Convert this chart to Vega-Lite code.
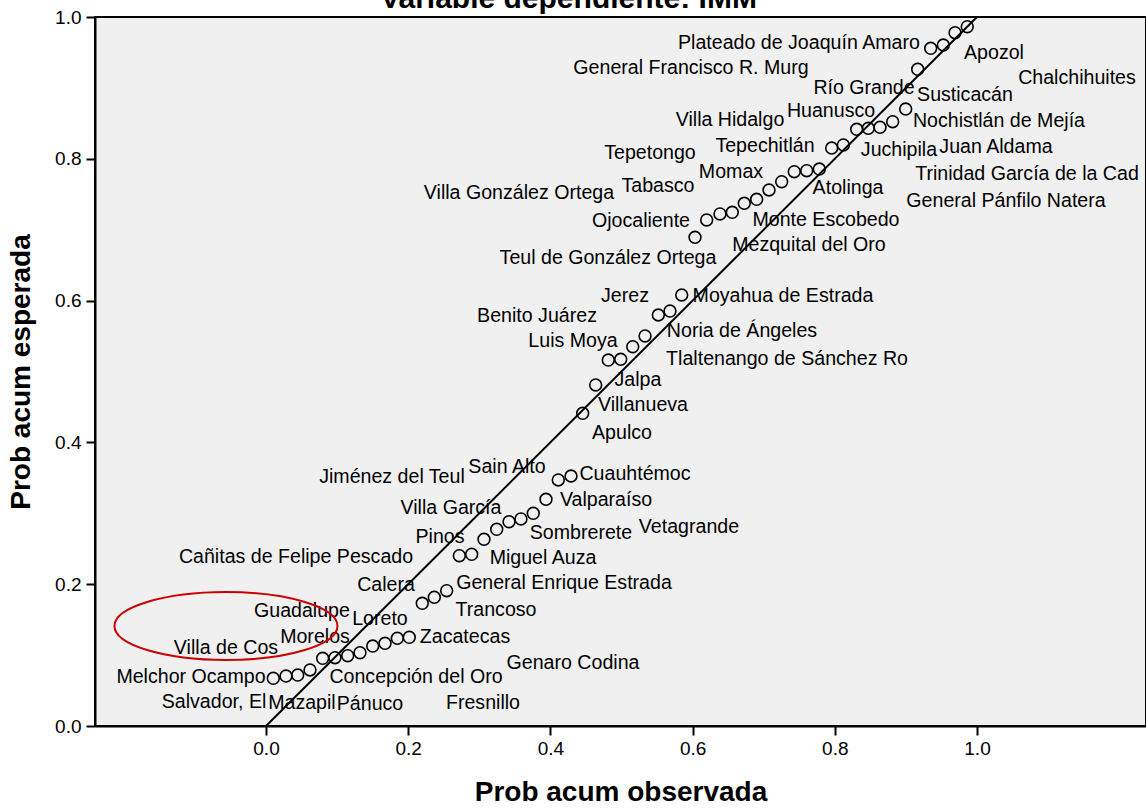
{
  "$schema": "https://vega.github.io/schema/vega-lite/v6.json",
  "width": 1051,
  "height": 709,
  "autosize": {"type": "none"},
  "padding": {"left": 95, "top": 17, "right": 0, "bottom": 83},
  "background": "white",
  "config": {
    "font": "Liberation Sans",
    "view": {"fill": "#f0f0f0", "stroke": "black", "strokeWidth": 2},
    "axis": {"grid": false}
  },
  "title": {
    "text": "Variable dependiente: IMM",
    "fontSize": 30,
    "fontWeight": "bold",
    "font": "Liberation Sans",
    "color": "black",
    "anchor": "middle",
    "frame": "group",
    "dx": -52,
    "offset": -30,
    "baseline": "alphabetic"
  },
  "datasets": {
    "points": [
      {"x": 0.0103, "y": 0.0673}, {"x": 0.0281, "y": 0.0705}, {"x": 0.0446, "y": 0.0719},
      {"x": 0.0619, "y": 0.0790}, {"x": 0.0797, "y": 0.0955}, {"x": 0.0970, "y": 0.0963},
      {"x": 0.1149, "y": 0.0992}, {"x": 0.1322, "y": 0.1034}, {"x": 0.1501, "y": 0.1128},
      {"x": 0.1674, "y": 0.1166}, {"x": 0.1847, "y": 0.1237}, {"x": 0.2015, "y": 0.1251},
      {"x": 0.2198, "y": 0.1731}, {"x": 0.2367, "y": 0.1815}, {"x": 0.2541, "y": 0.1908},
      {"x": 0.2719, "y": 0.2402}, {"x": 0.2893, "y": 0.2422}, {"x": 0.3066, "y": 0.2633},
      {"x": 0.3245, "y": 0.2774}, {"x": 0.3418, "y": 0.2882}, {"x": 0.3586, "y": 0.2920},
      {"x": 0.3759, "y": 0.3000}, {"x": 0.3938, "y": 0.3197}, {"x": 0.4111, "y": 0.3470},
      {"x": 0.4290, "y": 0.3526}, {"x": 0.4454, "y": 0.4410}, {"x": 0.4637, "y": 0.4810},
      {"x": 0.4814, "y": 0.5162}, {"x": 0.4989, "y": 0.5172}, {"x": 0.5158, "y": 0.5350},
      {"x": 0.5331, "y": 0.5501}, {"x": 0.5518, "y": 0.5797}, {"x": 0.5682, "y": 0.5853},
      {"x": 0.5847, "y": 0.6079}, {"x": 0.6034, "y": 0.6893}, {"x": 0.6198, "y": 0.7137},
      {"x": 0.6385, "y": 0.7222}, {"x": 0.6558, "y": 0.7245}, {"x": 0.6727, "y": 0.7372},
      {"x": 0.6901, "y": 0.7429}, {"x": 0.7075, "y": 0.7560}, {"x": 0.7253, "y": 0.7677},
      {"x": 0.7430, "y": 0.7818}, {"x": 0.7605, "y": 0.7832}, {"x": 0.7782, "y": 0.7856},
      {"x": 0.7956, "y": 0.8152}, {"x": 0.8120, "y": 0.8195}, {"x": 0.8308, "y": 0.8416},
      {"x": 0.8471, "y": 0.8430}, {"x": 0.8636, "y": 0.8444}, {"x": 0.8814, "y": 0.8523},
      {"x": 0.8997, "y": 0.8702}, {"x": 0.9166, "y": 0.9262}, {"x": 0.9349, "y": 0.9558},
      {"x": 0.9526, "y": 0.9605}, {"x": 0.9691, "y": 0.9779}, {"x": 0.9863, "y": 0.9863}
    ],
    "labels": [
      {"name": "Plateado de Joaquín Amaro", "x": 0.7496, "y": 0.9633},
      {"name": "Apozol", "x": 1.0239, "y": 0.9492},
      {"name": "General Francisco R. Murg", "x": 0.5977, "y": 0.9281},
      {"name": "Chalchihuites", "x": 1.1406, "y": 0.9140},
      {"name": "Río Grande", "x": 0.8411, "y": 0.8999},
      {"name": "Susticacán", "x": 0.9831, "y": 0.8900},
      {"name": "Villa Hidalgo", "x": 0.6526, "y": 0.8547},
      {"name": "Huanusco", "x": 0.7947, "y": 0.8674},
      {"name": "Nochistlán de Mejía", "x": 1.0309, "y": 0.8533},
      {"name": "Tepechitlán", "x": 0.7018, "y": 0.8181},
      {"name": "Juchipila", "x": 0.8903, "y": 0.8124},
      {"name": "Juan Aldama", "x": 1.0267, "y": 0.8166},
      {"name": "Tepetongo", "x": 0.5401, "y": 0.8082},
      {"name": "Momax", "x": 0.6540, "y": 0.7814},
      {"name": "Trinidad García de la Cad", "x": 1.0703, "y": 0.7786},
      {"name": "Tabasco", "x": 0.5513, "y": 0.7616},
      {"name": "Atolinga", "x": 0.8186, "y": 0.7588},
      {"name": "Villa González Ortega", "x": 0.3558, "y": 0.7518},
      {"name": "General Pánfilo Natera", "x": 1.0408, "y": 0.7405},
      {"name": "Ojocaliente", "x": 0.5274, "y": 0.7123},
      {"name": "Monte Escobedo", "x": 0.7876, "y": 0.7137},
      {"name": "Teul de González Ortega", "x": 0.4810, "y": 0.6601},
      {"name": "Mezquital del Oro", "x": 0.7637, "y": 0.6784},
      {"name": "Jerez", "x": 0.5049, "y": 0.6065},
      {"name": "Moyahua de Estrada", "x": 0.7271, "y": 0.6065},
      {"name": "Benito Juárez", "x": 0.3812, "y": 0.5783},
      {"name": "Noria de Ángeles", "x": 0.6695, "y": 0.5571},
      {"name": "Luis Moya", "x": 0.4318, "y": 0.5430},
      {"name": "Tlaltenango de Sánchez Ro", "x": 0.7328, "y": 0.5176},
      {"name": "Jalpa", "x": 0.5232, "y": 0.4880},
      {"name": "Villanueva", "x": 0.5302, "y": 0.4528},
      {"name": "Apulco", "x": 0.5007, "y": 0.4133},
      {"name": "Sain Alto", "x": 0.3390, "y": 0.3653},
      {"name": "Cuauhtémoc", "x": 0.5190, "y": 0.3554},
      {"name": "Jiménez del Teul", "x": 0.1772, "y": 0.3512},
      {"name": "Valparaíso", "x": 0.4782, "y": 0.3188},
      {"name": "Villa García", "x": 0.2602, "y": 0.3075},
      {"name": "Vetagrande", "x": 0.5949, "y": 0.2807},
      {"name": "Sombrerete", "x": 0.4430, "y": 0.2722},
      {"name": "Pinos", "x": 0.2447, "y": 0.2666},
      {"name": "Cañitas de Felipe Pescado", "x": 0.0422, "y": 0.2384},
      {"name": "Miguel Auza", "x": 0.3896, "y": 0.2370},
      {"name": "Calera", "x": 0.1688, "y": 0.1989},
      {"name": "General Enrique Estrada", "x": 0.4191, "y": 0.2017},
      {"name": "Guadalupe", "x": 0.0506, "y": 0.1622},
      {"name": "Trancoso", "x": 0.3235, "y": 0.1636},
      {"name": "Loreto", "x": 0.1603, "y": 0.1509},
      {"name": "Zacatecas", "x": 0.2799, "y": 0.1255},
      {"name": "Morelos", "x": 0.0689, "y": 0.1255},
      {"name": "Villa de Cos", "x": -0.0563, "y": 0.1100},
      {"name": "Genaro Codina", "x": 0.4318, "y": 0.0889},
      {"name": "Melchor Ocampo", "x": -0.1055, "y": 0.0691},
      {"name": "Concepción del Oro", "x": 0.2110, "y": 0.0691},
      {"name": "Salvador, El", "x": -0.0731, "y": 0.0339},
      {"name": "Mazapil", "x": 0.0506, "y": 0.0324},
      {"name": "Pánuco", "x": 0.1463, "y": 0.0310},
      {"name": "Fresnillo", "x": 0.3052, "y": 0.0324}
    ],
    "refline": [{"x": 0, "y": 0, "x2": 1, "y2": 1}],
    "mark": [{"x": -0.0563, "y": 0.141}]
  },
  "encoding": {
    "x": {
      "field": "x",
      "type": "quantitative",
      "scale": {"domain": [-0.2405, 1.2377], "nice": false, "zero": false},
      "axis": {
        "values": [0, 0.2, 0.4, 0.6, 0.8, 1.0],
        "format": ".1f",
        "title": "Prob acum observada",
        "titleFontSize": 28,
        "titleFontWeight": "bold",
        "titleColor": "black",
        "titlePadding": 20,
        "labelFontSize": 19,
        "labelColor": "black",
        "labelPadding": 4,
        "tickSize": 9,
        "tickWidth": 2,
        "tickColor": "black",
        "domainColor": "black",
        "domainWidth": 2,
        "labelFlush": false
      }
    },
    "y": {
      "field": "y",
      "type": "quantitative",
      "scale": {"domain": [0, 1], "nice": false, "zero": false},
      "axis": {
        "values": [0, 0.2, 0.4, 0.6, 0.8, 1.0],
        "format": ".1f",
        "title": "Prob acum esperada",
        "titleFontSize": 28,
        "titleFontWeight": "bold",
        "titleColor": "black",
        "titlePadding": 19,
        "labelFontSize": 19,
        "labelColor": "black",
        "labelPadding": 5,
        "tickSize": 9,
        "tickWidth": 2,
        "tickColor": "black",
        "domainColor": "black",
        "domainWidth": 2,
        "labelFlush": false
      }
    }
  },
  "layer": [
    {
      "data": {"name": "refline"},
      "mark": {"type": "rule", "color": "black", "strokeWidth": 2},
      "encoding": {"x2": {"field": "x2"}, "y2": {"field": "y2"}}
    },
    {
      "data": {"name": "points"},
      "mark": {"type": "point", "shape": "circle", "filled": false, "stroke": "black", "strokeWidth": 1.6, "size": 140, "opacity": 1}
    },
    {
      "data": {"name": "labels"},
      "mark": {"type": "text", "fontSize": 19.6, "font": "Liberation Sans", "color": "black", "align": "center", "baseline": "middle"},
      "encoding": {"text": {"field": "name"}}
    },
    {
      "data": {"name": "mark"},
      "mark": {
        "type": "point",
        "shape": "M -1 0 A 1 0.305 0 1 1 1 0 A 1 0.305 0 1 1 -1 0 Z",
        "filled": false,
        "stroke": "#cc0000",
        "strokeWidth": 2,
        "size": 49729,
        "opacity": 1
      }
    }
  ]
}
